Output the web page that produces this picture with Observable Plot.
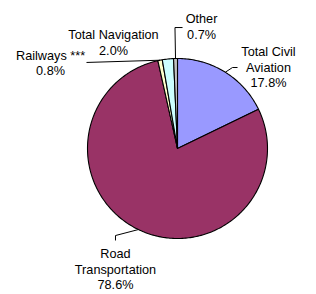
<!DOCTYPE html>
<html><head><meta charset="utf-8">
<script src="https://cdn.jsdelivr.net/npm/d3@7"></script>
<script src="https://cdn.jsdelivr.net/npm/@observablehq/plot@0.6"></script>
<style>body{margin:0;background:#fff}</style>
</head><body><div id="chart"></div>
<script>
// ---- data ----
const categories = ["Total Civil Aviation", "Road Transportation", "Railways ***", "Total Navigation", "Other"];
const labelNames = ["Total Civil\nAviation", "Road\nTransportation", "Railways ***", "Total Navigation", "Other"];
const shares = [17.8, 78.6, 0.8, 2.0, 0.7];
const shareLabels = ["17.8%", "78.6%", "0.8%", "2.0%", "0.7%"];
const colors = ["#9999ff", "#993366", "#ffffcc", "#ccffff", "#c0c0c0"];

// ---- layout (radius units, pie centred at 0,0 with radius 1) ----
const W = 316, H = 294, R = 90, CX = 177, CY = 148;
const labelAnchors = [[1.011, 0.911], [-0.689, -1.333], [-1.411, 0.956], [-0.711, 1.183], [0.267, 1.361]];
const leaderElbows = [[[0.611, 0.9], [0.667, 0.9]], [[-0.689, -0.967], [-0.689, -1.022]], [[-1.011, 0.956]], null, [[-0.028, 1.344], [0.056, 1.344]]];

const arcs = d3.pie().sort(null).value(d => d)(shares);
const polar = (a, r) => [r * Math.sin(a), r * Math.cos(a)];

const slicePts = [];
arcs.forEach((a, i) => {
  slicePts.push({k: i, x: 0, y: 0, c: colors[i]});
  const n = Math.max(2, Math.ceil((a.endAngle - a.startAngle) / (Math.PI / 180)));
  for (let j = 0; j <= n; j++) {
    const t = a.startAngle + (a.endAngle - a.startAngle) * j / n;
    const [x, y] = polar(t, 1);
    slicePts.push({k: i, x, y, c: colors[i]});
  }
  slicePts.push({k: i, x: 0, y: 0, c: colors[i]});
});

const leaderPts = [];
arcs.forEach((a, i) => {
  if (!leaderElbows[i]) return;
  const [x0, y0] = polar((a.startAngle + a.endAngle) / 2, 1);
  leaderPts.push({k: i, x: x0, y: y0});
  leaderElbows[i].forEach(([x, y]) => leaderPts.push({k: i, x, y}));
});

const labels = categories.map((c, i) => ({
  x: labelAnchors[i][0], y: labelAnchors[i][1],
  text: labelNames[i] + "\n" + shareLabels[i]
}));

const chart = Plot.plot({
  width: W, height: H, margin: 0,
  x: {domain: [-CX / R, (W - CX) / R], axis: null},
  y: {domain: [-(H - CY) / R, CY / R], axis: null},
  color: {type: "identity"},
  style: {fontFamily: "'Liberation Sans', Arial, sans-serif", background: "#fff"},
  marks: [
    Plot.line(slicePts, {x: "x", y: "y", z: "k", fill: "c", stroke: "black", strokeWidth: 1.1, curve: "linear"}),
    Plot.line(leaderPts, {x: "x", y: "y", z: "k", stroke: "black", strokeWidth: 1, strokeLinecap: "butt", strokeLinejoin: "miter"}),
    Plot.text(labels, {x: "x", y: "y", text: "text", textAnchor: "middle", lineAnchor: "middle", lineHeight: 1.25, fontSize: 12.7, fill: "#000", fontFamily: "'Liberation Sans', Arial, sans-serif"})
  ]
});
document.getElementById("chart").appendChild(chart);
</script>
</body></html>
